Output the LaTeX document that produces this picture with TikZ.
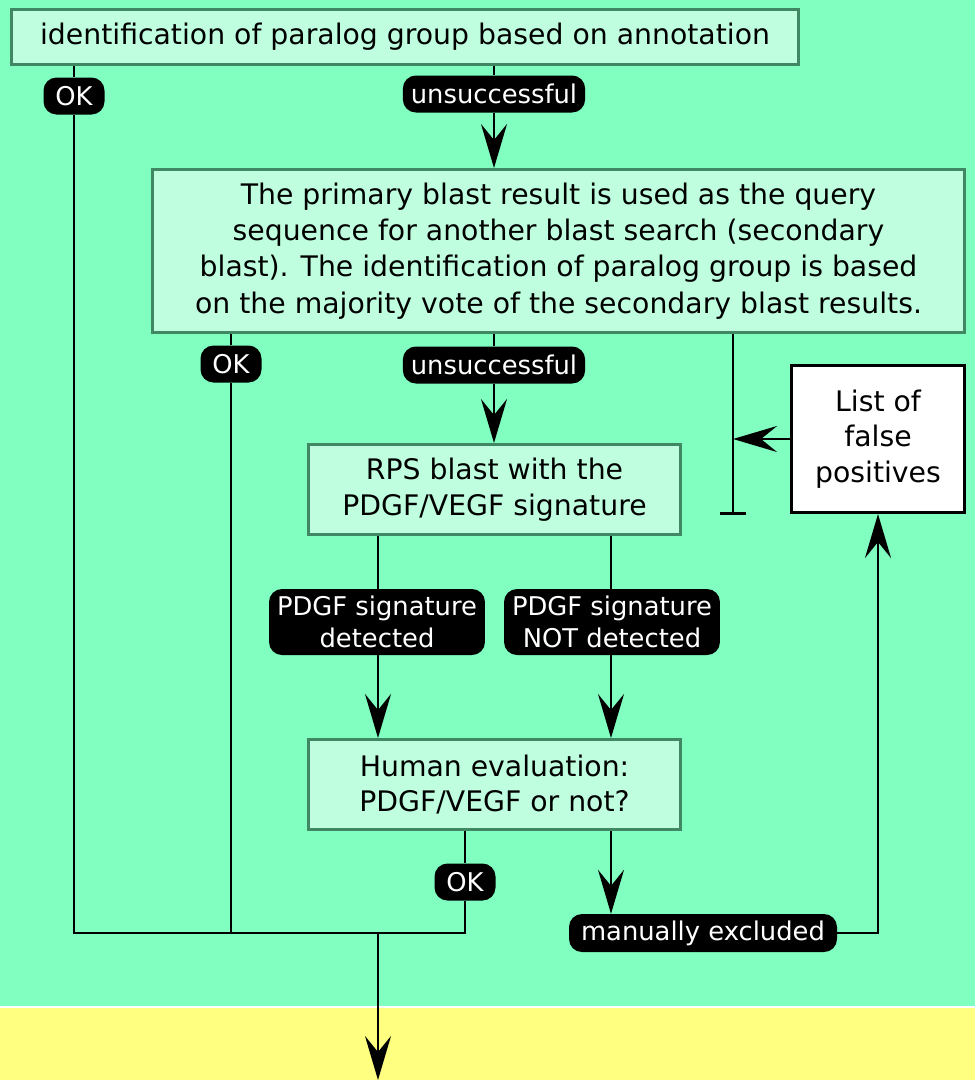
\documentclass[tikz,border=0pt]{standalone}
\usepackage{fontspec}
\setmainfont{DejaVu Sans}
\usetikzlibrary{arrows.meta}
\definecolor{bggreen}{RGB}{128,255,192}
\definecolor{bgyellow}{RGB}{255,255,128}
\definecolor{boxfill}{RGB}{191,255,223}
\definecolor{boxline}{RGB}{64,136,100}
\begin{document}
\begin{tikzpicture}[x=1pt,y=-1pt,
  procbox/.style={draw=boxline, line width=3pt, fill=boxfill, align=center, inner sep=0pt, font=\fontsize{28.3}{35.5}\selectfont},
  whitebox/.style={draw=black, line width=3pt, fill=white, align=center, inner sep=0pt, font=\fontsize{28.3}{35.5}\selectfont},
  lbl/.style={fill=black, text=white, rounded corners=13pt, align=center, inner xsep=8pt, inner ysep=0pt, font=\fontsize{25.8}{32}\selectfont},
  conn/.style={line width=2.7pt},
  arr/.style={conn, -{Stealth[length=44pt,width=26pt,inset=16pt]}}
]
\useasboundingbox (0,0) rectangle (975,1080);
\fill[bggreen] (0,0) rectangle (975,1006);
\fill[white] (0,1006) rectangle (975,1008);
\fill[bgyellow] (0,1008) rectangle (975,1080);

% boxes
\node[procbox, minimum width=787pt, minimum height=55pt] (b1) at (405,37) {identification of paralog group based on annotation};
\node[procbox, minimum width=812pt, minimum height=163pt, font=\fontsize{28.3}{36.3}\selectfont] (b2) at (558.5,251) {The primary blast result is used as the query\\sequence for another blast search (secondary\\blast). The identification of paralog group is based\\on the majority vote of the secondary blast results.};
\node[procbox, minimum width=372pt, minimum height=90pt] (b3) at (494.5,489.5) {RPS blast with the\\PDGF/VEGF signature};
\node[procbox, minimum width=372pt, minimum height=90pt] (b4) at (494.5,784.5) {Human evaluation:\\PDGF/VEGF or not?};
\node[whitebox, minimum width=173pt, minimum height=147pt] (b5) at (878,439) {List of\\false\\positives};

% labels
\node[lbl, minimum width=61pt, minimum height=37pt] (ok1) at (74,96) {OK};
\node[lbl, minimum height=37pt] (un1) at (494,94) {unsuccessful};
\node[lbl, minimum width=61pt, minimum height=37pt] (ok2) at (231,364) {OK};
\node[lbl, minimum height=37pt] (un2) at (494,365) {unsuccessful};
\node[lbl, minimum width=215pt, minimum height=66pt] (pd1) at (377,622) {PDGF signature\\detected};
\node[lbl, minimum width=215pt, minimum height=66pt] (pd2) at (612,622) {PDGF signature\\NOT detected};
\node[lbl, minimum width=61pt, minimum height=37pt] (ok3) at (465,882) {OK};
\node[lbl, minimum width=268pt, minimum height=38pt] (mex) at (703,933) {manually excluded};

% coordinates
\coordinate (j1) at (74,933);
\coordinate (jm) at (378,933);
\coordinate (endc) at (378,1080);
\coordinate (tb) at (733,515);
\coordinate (jr) at (611,0);

% connectors
\draw[conn] (b1.south -| ok1) -- (ok1.north);
\draw[conn] (ok1.south) -- (j1) -- (j1 -| ok3) -- (ok3.south);
\draw[conn] (b2.south -| ok2) -- (ok2.north);
\draw[conn] (ok2.south) -- (ok2 |- j1);
\draw[conn] (b4.south -| ok3) -- (ok3.north);
\draw[arr] (jm) -- (endc);
\draw[conn] (b1.south -| un1) -- (un1.north);
\draw[arr] (un1.south) -- (b2.north -| un1);
\draw[conn] (b2.south -| un2) -- (un2.north);
\draw[arr] (un2.south) -- (b3.north -| un2);
\draw[conn] (b3.south -| jm) -- (pd1.north -| jm);
\draw[arr] (pd1.south -| jm) -- (b4.north -| jm);
\draw[conn] (b3.south -| jr) -- (pd2.north -| jr);
\draw[arr] (pd2.south -| jr) -- (b4.north -| jr);
\draw[arr] (b4.south -| jr) -- (mex.north -| jr);
\draw[arr] (mex.east) -| (b5.south);
\draw[conn, -{Bar[width=26pt]}] (b2.south -| tb) -- (tb);
\draw[arr] (b5.west) -- (b5.west -| tb);
\end{tikzpicture}
\end{document}
